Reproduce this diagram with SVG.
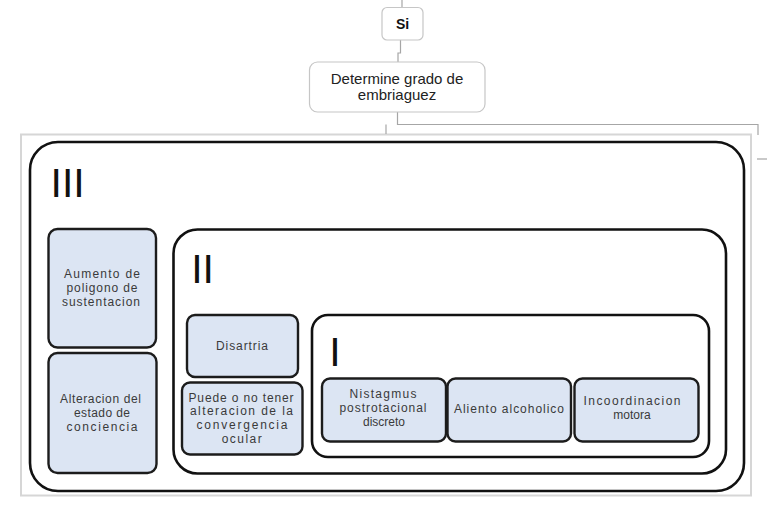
<svg xmlns="http://www.w3.org/2000/svg" width="767" height="505" viewBox="0 0 767 505">
<style>
.bg{fill:#ffffff}
.frame{fill:none;stroke:#d6d6d6;stroke-width:2}
.con{fill:none;stroke:#a6a6a6;stroke-width:1.2}
.top{fill:#ffffff;stroke:#c6c6c6;stroke-width:1.2}
.grp{fill:#ffffff;stroke:#111111;stroke-width:2.6}
.item{fill:#dce5f3;stroke:#1c1c1c;stroke-width:2.4}
.t{font-family:"Liberation Sans",Arial,sans-serif;font-size:12px;fill:#3a3a3a;text-anchor:middle}
.tt{font-family:"Liberation Sans",Arial,sans-serif;font-size:15px;fill:#222222;text-anchor:middle}
.lbl{font-family:"Liberation Sans",Arial,sans-serif;font-size:41px;fill:#111111}
</style>
<rect class="bg" x="0" y="0" width="767" height="505"/>
<rect class="frame" x="21" y="134.5" width="730" height="361"/>
<g id="connectors">
<path class="con" d="M402,0 V7"/>
<path class="con" d="M400.5,40 V53 H398 V62"/>
<path class="con" d="M397.5,112 V124.5 H758 V135"/>
<path class="con" d="M386,124.5 V134"/>
<path class="con" d="M757,159 H767"/>
</g>
<g id="node-si">
<rect class="top" x="382" y="7.5" width="41" height="32.5" rx="5"/>
<text x="402.5" y="28.5" style="font-family:'Liberation Sans',Arial,sans-serif;font-size:14px;font-weight:bold;fill:#111;text-anchor:middle">Si</text>
</g>
<g id="node-determine">
<rect class="top" x="309.5" y="62" width="175.5" height="50" rx="8"/>
<text class="tt" x="397" y="84">Determine grado de</text>
<text class="tt" x="397" y="100">embriaguez</text>
</g>
<g id="group-III">
<rect class="grp" x="30" y="142" width="714" height="349" rx="28"/>
<text class="lbl" x="50.5" y="197">III</text>
</g>
<g id="node-aumento">
<rect class="item" x="48.5" y="229" width="107.5" height="118.5" rx="9"/>
<text class="t" x="102" y="278" textLength="76" lengthAdjust="spacing">Aumento de</text>
<text class="t" x="102" y="292" textLength="71" lengthAdjust="spacing">poligono de</text>
<text class="t" x="101" y="306" textLength="78" lengthAdjust="spacing">sustentacion</text>
</g>
<g id="node-alteracion">
<rect class="item" x="48.5" y="353" width="108" height="120" rx="9"/>
<text class="t" x="100.5" y="403" textLength="81" lengthAdjust="spacing">Alteracion del</text>
<text class="t" x="102" y="417" textLength="56" lengthAdjust="spacing">estado de</text>
<text class="t" x="102" y="431" textLength="71" lengthAdjust="spacing">conciencia</text>
</g>
<g id="group-II">
<rect class="grp" x="173.5" y="229.5" width="552.5" height="244" rx="24"/>
<text class="lbl" x="191.2" y="283">II</text>
</g>
<g id="node-disartria">
<rect class="item" x="187" y="315" width="111" height="62" rx="8"/>
<text class="t" x="242" y="349.5" textLength="52" lengthAdjust="spacing">Disartria</text>
</g>
<g id="node-puede">
<rect class="item" x="182" y="382.5" width="120.5" height="72" rx="8"/>
<text class="t" x="241" y="401.5" textLength="105" lengthAdjust="spacing">Puede o no tener</text>
<text class="t" x="241.5" y="415" textLength="103" lengthAdjust="spacing">alteracion de la</text>
<text class="t" x="242" y="428.5" textLength="91" lengthAdjust="spacing">convergencia</text>
<text class="t" x="241.7" y="442.5" textLength="40" lengthAdjust="spacing">ocular</text>
</g>
<g id="group-I">
<rect class="grp" x="312" y="315" width="397" height="142" rx="16"/>
<text class="lbl" x="329.2" y="366">I</text>
</g>
<g id="node-nistagmus">
<rect class="item" x="322" y="378.5" width="124" height="63" rx="8"/>
<text class="t" x="383" y="398" textLength="67" lengthAdjust="spacing">Nistagmus</text>
<text class="t" x="383" y="412" textLength="87" lengthAdjust="spacing">postrotacional</text>
<text class="t" x="384" y="426">discreto</text>
</g>
<g id="node-aliento">
<rect class="item" x="447.5" y="378.5" width="123.5" height="63" rx="8"/>
<text class="t" x="509" y="413" textLength="110" lengthAdjust="spacing">Aliento alcoholico</text>
</g>
<g id="node-incoordinacion">
<rect class="item" x="574.5" y="378.5" width="124" height="63" rx="8"/>
<text class="t" x="632" y="404.5" textLength="97" lengthAdjust="spacing">Incoordinacion</text>
<text class="t" x="632" y="419">motora</text>
</g>
</svg>
